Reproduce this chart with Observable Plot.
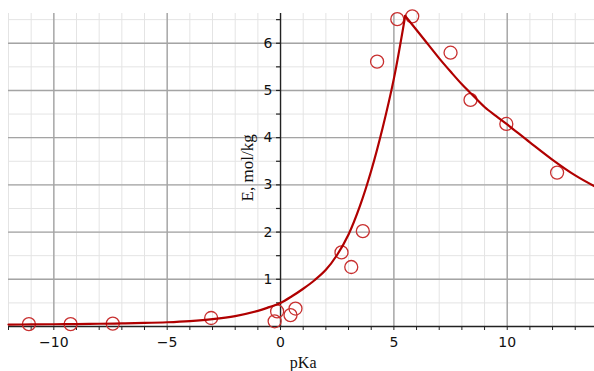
<!DOCTYPE html>
<html>
<head>
<meta charset="utf-8">
<script src="https://cdn.jsdelivr.net/npm/d3@7"></script>
<script src="https://cdn.jsdelivr.net/npm/@observablehq/plot@0.6"></script>
<style>
  html, body { margin: 0; padding: 0; background: #fff; }
  #chart svg { display: block; }
</style>
</head>
<body>
<div id="chart"></div>
<script>
// Observed points
const obsPKa = [-11.1, -9.26, -7.4, -3.06, -0.26, -0.15, 0.44, 0.66, 2.69, 3.12, 3.63, 4.26, 5.15, 5.81, 7.5, 8.38, 9.96, 12.2];
const obsE   = [0.05, 0.05, 0.06, 0.18, 0.11, 0.32, 0.24, 0.38, 1.57, 1.26, 2.02, 5.61, 6.51, 6.57, 5.8, 4.8, 4.29, 3.26];

// Fitted curve (rising and falling branches)
const curveLeftX = [-12, -11, -10, -9, -8, -7, -6, -5, -4, -3, -2, -1, -0.5, 0, 0.5, 1, 1.5, 2, 2.5, 3, 3.5, 4, 4.5, 5, 5.5];
const curveLeftY = [0.04, 0.044, 0.048, 0.052, 0.058, 0.065, 0.075, 0.09, 0.115, 0.155, 0.22, 0.33, 0.41, 0.5, 0.64, 0.8, 0.98, 1.2, 1.52, 1.95, 2.55, 3.3, 4.2, 5.25, 6.58];
const curveRightX = [5.5, 6, 6.5, 7, 7.5, 8, 8.5, 9, 9.5, 10, 11, 12, 13, 13.85];
const curveRightY = [6.58, 6.28, 5.98, 5.68, 5.4, 5.13, 4.89, 4.65, 4.46, 4.28, 3.9, 3.53, 3.2, 2.97];

// Ticks and grid
const xMinor = d3.range(-12, 14, 1);
const yMinor = d3.range(0.5, 6.6, 0.5);
const xMajor = [-10, -5, 5, 10];
const yMajor = [1, 2, 3, 4, 5, 6];
const xTickLabels = [-10, -5, 0, 5, 10];
const yTickLabels = [1, 2, 3, 4, 5, 6];
const xLabel = "pKa";
const yLabel = "E, mol/kg";

const obs = obsPKa.map((x, i) => ({x, y: obsE[i]}));
const curve = [
  ...curveLeftX.map((x, i) => ({x, y: curveLeftY[i], seg: "left"})),
  ...curveRightX.map((x, i) => ({x, y: curveRightY[i], seg: "right"}))
];

const fmt = d => d < 0 ? "\u2212" + (-d) : String(d);

const chart = Plot.plot({
  width: 594,
  height: 371,
  marginLeft: 8,
  marginRight: 0,
  marginTop: 13,
  marginBottom: 45,
  style: {fontFamily: "DejaVu Sans", fontSize: "14px", background: "#fff"},
  x: {domain: [-12, 13.85], label: null},
  y: {domain: [0, 6.63], axis: null, label: null},
  marks: [
    Plot.ruleX(xMinor, {stroke: "#e4e4e4", strokeWidth: 1}),
    Plot.ruleY(yMinor, {stroke: "#e4e4e4", strokeWidth: 1}),
    Plot.ruleX(xMajor, {stroke: "#a4a4a4", strokeWidth: 1.4}),
    Plot.ruleY(yMajor, {stroke: "#a4a4a4", strokeWidth: 1.4}),
    Plot.ruleY([0], {stroke: "#222", strokeWidth: 1.4}),
    Plot.ruleX([0], {stroke: "#222", strokeWidth: 1.4}),
    Plot.axisX({
      ticks: xMinor,
      tickSize: 4,
      tickPadding: 7,
      label: null,
      tickFormat: d => xTickLabels.includes(d) ? fmt(d) : "",
      stroke: "#222",
      fill: "#111"
    }),
    Plot.ruleY(yMinor, {x1: 0, x2: 0, insetLeft: -4, stroke: "#222", strokeWidth: 1.2}),
    Plot.text(yTickLabels, {x: 0, y: d => d, text: d => String(d), textAnchor: "end", dx: -8, fontSize: 14, fontFamily: "DejaVu Sans", fill: "#111"}),
    Plot.text([yLabel], {x: -1.45, y: 3.36, text: d => d, rotate: -90, fontSize: 17, fontFamily: "Liberation Serif", fill: "#111"}),
    Plot.text([xLabel], {x: 1.0, y: 0, dy: 36, text: d => d, fontSize: 16, fontFamily: "Liberation Serif", fill: "#111"}),
    Plot.dot(obs, {x: "x", y: "y", r: 6.5, stroke: "#c83030", strokeWidth: 1.3, fill: "none"}),
    Plot.line(curve, {x: "x", y: "y", z: "seg", curve: "catmull-rom", stroke: "#b00000", strokeWidth: 2.2})
  ]
});
document.getElementById("chart").appendChild(chart);
</script>
</body>
</html>
